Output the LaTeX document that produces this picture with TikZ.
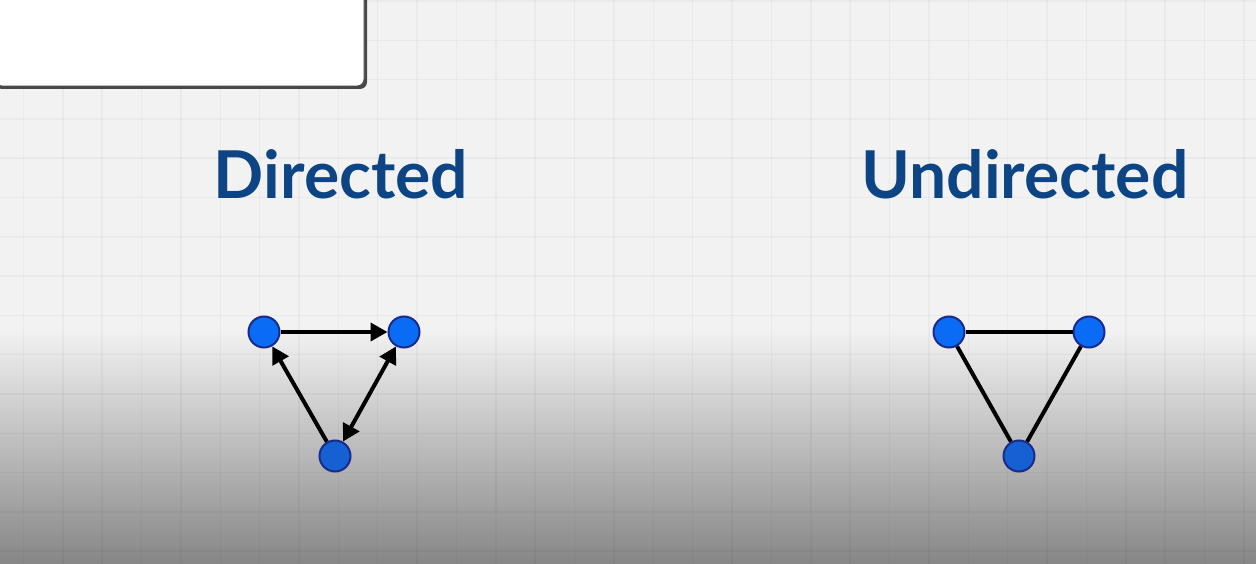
\documentclass[tikz,border=0pt]{standalone}
\usepackage{fontspec}
\setmainfont{Lato}
\usetikzlibrary{arrows.meta,shadows}
\definecolor{titleblue}{HTML}{0D4584}
\definecolor{nodeblue}{HTML}{0A6CF5}
\definecolor{nodeblue2}{HTML}{1560D2}
\definecolor{nodeedge}{HTML}{1A2A8A}
\definecolor{bgtop}{HTML}{F2F2F2}
\definecolor{bgbot}{HTML}{868686}
\tikzset{
  vert/.style={circle, minimum size=31pt, inner sep=0pt, draw=nodeedge, line width=2pt, fill=nodeblue},
  vertlow/.style={vert, fill=nodeblue2},
  edge/.style={line width=4pt, black},
  arr/.style={edge, -{Triangle[length=17pt,width=18pt]}},
  darr/.style={edge, {Triangle[length=17pt,width=18pt]}-{Triangle[length=17pt,width=18pt]}},
  title/.style={font=\bfseries\fontsize{66}{72}\selectfont, text=titleblue, inner sep=0pt}
}
\begin{document}
\begin{tikzpicture}[x=1pt,y=-1pt]
\useasboundingbox (0,0) rectangle (1256,564);
% background
\fill[bgtop] (0,0) rectangle (1256,330);
\shade[top color=bgtop, bottom color=bgbot] (0,329) rectangle (1256,564);
% grid
\foreach \i in {0,...,31} {
  \draw[black, opacity=0.03, line width=1.5pt] ({23.4+39.37*\i},0) -- ({23.4+39.37*\i},564);
}
\foreach \j in {0,...,14} {
  \draw[black, opacity=0.03, line width=1.5pt] (0,{1+39.3*\j}) -- (1256,{1+39.3*\j});
}
% white panel with shadow
\fill[black, opacity=0.7] (-5,-5) -- (367,-5) -- (367,82) [rounded corners=7pt] -- (367,89) -- (-5,89) -- cycle;
\fill[white, draw=black!70, line width=0.8pt] (-5,-5) -- (364,-5) [rounded corners=7pt] -- (364,86) -- (-5,86) [sharp corners] -- cycle;
% titles
\node[title] (tdir) at (341,174) {Directed};
\node[title] (tund) at (1025,174) {Undirected};
% directed graph
\node[vert] (a) at (264,332) {};
\node[vert] (b) at (404,332) {};
\node[vertlow] (c) at (335,456) {};
\draw[arr] (a) -- (b);
\draw[arr] (c) -- (a);
\draw[darr] (b) -- (c);
% undirected graph
\node[vert] (d) at (949,332) {};
\node[vert] (e) at (1089,332) {};
\node[vertlow] (f) at (1019,456) {};
\draw[edge] (d) -- (e);
\draw[edge] (e) -- (f);
\draw[edge] (f) -- (d);
\end{tikzpicture}
\end{document}
